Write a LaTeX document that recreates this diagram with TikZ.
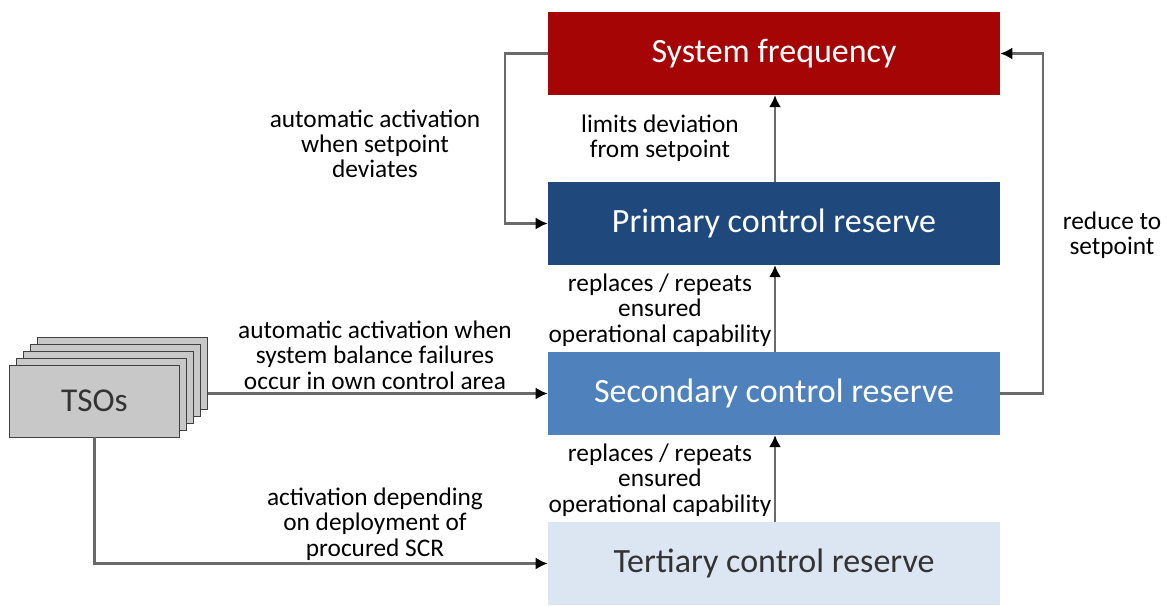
\documentclass[tikz,border=0pt]{standalone}
\usepackage{fontspec}
\setmainfont{Carlito}
\usepackage{xcolor}
\usetikzlibrary{arrows.meta,positioning}
\definecolor{myred}{HTML}{A50505}
\definecolor{mydarkblue}{HTML}{1F497D}
\definecolor{myblue}{HTML}{4F81BD}
\definecolor{mylightblue}{HTML}{DCE6F2}
\definecolor{mygray}{HTML}{C8C8C8}
\definecolor{myline}{HTML}{6A6A6A}
\tikzstyle{reserve} = [minimum width=339pt,minimum height=62pt,inner sep=0pt,font=\fontsize{25.5}{30}\selectfont,text=white]
\tikzstyle{tsobox} = [draw=black!75,fill=mygray,minimum width=128pt,minimum height=54pt,inner sep=0pt,line width=0.6pt]
\tikzstyle{lbl} = [align=center,font=\fontsize{19}{19}\selectfont,inner sep=0pt]
\tikzstyle{arrow} = [draw=myline,line width=1.8pt,-{Latex[length=9pt,width=9pt,color=black]}]

\begin{document}
\begin{tikzpicture}[x=0.75pt,y=-0.75pt]
          \useasboundingbox (0,0) rectangle (1168,606);
          % boxes
          \node[reserve,fill=myred] (freq) at (774,53.5) {System frequency};
          \node[reserve,fill=mydarkblue] (prim) at (774,223.5) {Primary control reserve};
          \node[reserve,fill=myblue] (sec) at (774,393.5) {Secondary control reserve};
          \node[reserve,fill=mylightblue,text=black!80] (tert) at (774,563.5) {Tertiary control reserve};

          % TSOs stack
          \foreach \i in {4,3,2,1}
            \node[tsobox] (tso\i) at (94.5+7*\i,401-7*\i) {};
          \node[tsobox,font=\fontsize{25}{30}\selectfont,text=black!80] (tso) at (94.5,401) {TSOs};

          % arrows
          \draw[arrow] (freq.west) -- ++(-43,0) |- (prim.west);
          \draw[arrow] (sec.east) -- ++(43,0) |- (freq.east);
          \draw[arrow] (prim.north -| 775,0) -- (freq.south -| 775,0);
          \draw[arrow] (sec.north -| 775,0) -- (prim.south -| 775,0);
          \draw[arrow] (tert.north -| 775,0) -- (sec.south -| 775,0);
          \draw[arrow] (tso4.east |- sec.west) -- (sec.west);
          \draw[arrow] (tso.south) |- (tert.west);

          % labels
          \node[lbl] at (375,144) {automatic activation\\when setpoint\\deviates};
          \node[lbl] at (660,138) {limits deviation\\from setpoint};
          \node[lbl] at (1112,235) {reduce to\\setpoint};
          \node[lbl] at (660,310) {replaces / repeats\\ensured\\operational capability};
          \node[lbl] at (660,480) {replaces / repeats\\ensured\\operational capability};
          \node[lbl] at (375,355) {automatic activation when\\system balance failures\\occur in own control area};
          \node[lbl] at (375,524) {activation depending\\on deployment of\\procured SCR};
      \end{tikzpicture}
\end{document}
